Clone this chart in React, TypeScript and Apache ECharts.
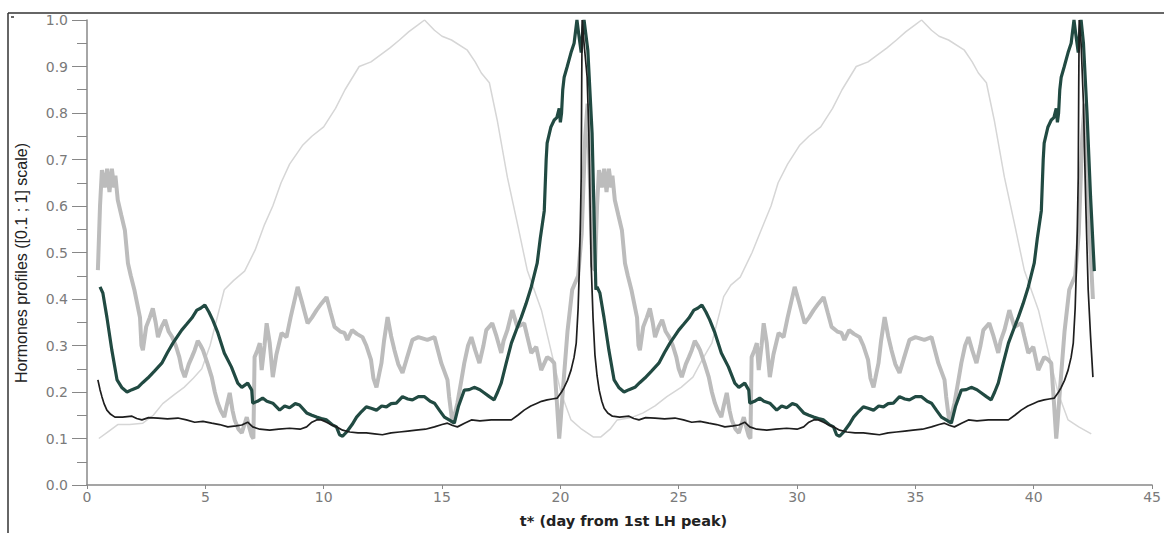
import React, { useEffect, useRef } from "react";
import * as echarts from "echarts";

// x: day (t*), y: normalised hormone level
const xAxisName = "t* (day from 1st LH peak)";
const yAxisName = "Hormones profiles ([0.1 ; 1] scale)";

// light grey thin curve – cycle 1 and cycle 2
const lightCycle1: number[][] = [
  [0.5,0.10],[0.9,0.115],[1.3,0.13],[1.8,0.13],[2.36,0.133],[2.8,0.15],[3.2,0.175],[3.7,0.195],[4.1,0.21],[4.5,0.23],[4.85,0.25],[5.2,0.30],[5.5,0.36],[5.8,0.42],[6.2,0.44],[6.66,0.46],[7.1,0.505],[7.5,0.56],[7.85,0.60],[8.2,0.65],[8.56,0.69],[9.1,0.73],[9.5,0.75],[10.0,0.77],[10.5,0.81],[10.9,0.85],[11.5,0.90],[12.0,0.91],[12.4,0.925],[12.8,0.94],[13.2,0.957],[13.6,0.975],[14.0,0.99],[14.26,1.0],[14.68,0.978],[15.0,0.965],[15.4,0.957],[16.07,0.935],[16.4,0.91],[16.66,0.886],[17.0,0.865],[17.33,0.785],[17.76,0.662],[18.18,0.563],[18.6,0.462],[19.2,0.376],[19.6,0.29],[20.03,0.198],[20.45,0.14],[20.9,0.12],[21.4,0.103]
];
const lightCycle2: number[][] = [
  [21.7,0.103],[22.1,0.12],[22.4,0.14],[23.0,0.145],[23.5,0.155],[24.0,0.17],[24.5,0.19],[25.1,0.21],[25.6,0.232],[26.0,0.27],[26.4,0.305],[26.9,0.405],[27.2,0.43],[27.6,0.447],[28.1,0.50],[28.6,0.563],[28.9,0.60],[29.2,0.65],[29.6,0.69],[30.1,0.73],[30.5,0.75],[31.0,0.77],[31.5,0.81],[31.9,0.85],[32.5,0.90],[33.0,0.91],[33.4,0.925],[33.8,0.94],[34.2,0.957],[34.6,0.975],[35.0,0.99],[35.26,1.0],[35.68,0.978],[36.0,0.965],[36.4,0.957],[37.07,0.935],[37.4,0.91],[37.66,0.886],[38.0,0.865],[38.33,0.785],[38.76,0.662],[39.18,0.563],[39.6,0.462],[40.2,0.376],[40.6,0.29],[41.03,0.198],[41.45,0.14],[41.9,0.125],[42.43,0.11]
];

// medium grey thick noisy curve
const greyCycle1: number[][] = [
  [0.46,0.462],[0.55,0.60],[0.63,0.677],[0.75,0.64],[0.85,0.68],[0.95,0.63],[1.05,0.68],[1.15,0.64],[1.2,0.665],[1.3,0.613],[1.45,0.58],[1.6,0.548],[1.73,0.477],[1.85,0.45],[2.0,0.42],[2.12,0.39],[2.24,0.36],[2.3,0.30],[2.36,0.29],[2.5,0.34],[2.65,0.36],[2.78,0.38],[2.9,0.35],[3.0,0.318],[3.15,0.34],[3.3,0.355],[3.45,0.33],[3.6,0.318],[3.75,0.30],[3.9,0.275],[4.0,0.25],[4.13,0.232],[4.3,0.26],[4.43,0.275],[4.55,0.29],[4.68,0.31],[4.8,0.30],[4.9,0.29],[5.1,0.26],[5.27,0.232],[5.4,0.20],[5.53,0.176],[5.65,0.16],[5.8,0.146],[5.9,0.17],[6.03,0.198],[6.15,0.16],[6.24,0.14],[6.4,0.12],[6.54,0.112],[6.65,0.13],[6.75,0.146],[6.85,0.125],[6.96,0.105],[7.03,0.10],[7.08,0.275],[7.2,0.29],[7.3,0.305],[7.38,0.247],[7.5,0.30],[7.59,0.348],[7.72,0.305],[7.85,0.232],[8.0,0.28],[8.22,0.327],[8.43,0.318],[8.6,0.36],[8.9,0.426],[9.1,0.39],[9.32,0.348],[9.5,0.36],[9.7,0.376],[9.9,0.39],[10.12,0.404],[10.3,0.37],[10.46,0.34],[10.7,0.33],[10.88,0.327],[11.0,0.312],[11.2,0.333],[11.4,0.325],[11.64,0.318],[11.8,0.30],[12.0,0.269],[12.1,0.23],[12.23,0.21],[12.35,0.24],[12.44,0.262],[12.55,0.31],[12.7,0.361],[12.85,0.32],[12.99,0.29],[13.15,0.26],[13.33,0.241],[13.5,0.27],[13.75,0.312],[14.0,0.318],[14.38,0.312],[14.68,0.318],[14.97,0.262],[15.23,0.226],[15.3,0.19],[15.44,0.133],[15.65,0.176],[15.8,0.22],[15.94,0.262],[16.1,0.30],[16.24,0.318],[16.4,0.29],[16.58,0.262],[16.75,0.30],[16.87,0.333],[17.12,0.348],[17.3,0.32],[17.5,0.284],[17.6,0.31],[17.76,0.333],[17.97,0.376],[18.18,0.34],[18.47,0.348],[18.6,0.32],[18.77,0.284],[18.98,0.297],[19.19,0.247],[19.44,0.275],[19.6,0.27],[19.74,0.262],[19.85,0.18],[19.95,0.10],[20.0,0.13],[20.1,0.2],[20.3,0.33],[20.5,0.42],[20.75,0.45],[20.9,0.54],[21.05,0.75],[21.15,0.82],[21.25,0.65],[21.35,0.47]
];
const greyCycle2: number[][] = [
  [21.46,0.462],[21.55,0.60],[21.63,0.677],[21.75,0.64],[21.85,0.68],[21.95,0.63],[22.05,0.68],[22.15,0.64],[22.2,0.665],[22.3,0.613],[22.45,0.58],[22.6,0.548],[22.73,0.477],[22.85,0.45],[23.0,0.42],[23.12,0.39],[23.24,0.36],[23.3,0.30],[23.36,0.29],[23.5,0.34],[23.65,0.36],[23.78,0.38],[23.9,0.35],[24.0,0.318],[24.15,0.34],[24.3,0.355],[24.45,0.33],[24.6,0.318],[24.75,0.30],[24.9,0.275],[25.0,0.25],[25.13,0.232],[25.3,0.26],[25.43,0.275],[25.55,0.29],[25.68,0.31],[25.8,0.30],[25.9,0.29],[26.1,0.26],[26.27,0.232],[26.4,0.20],[26.53,0.176],[26.65,0.16],[26.8,0.146],[26.9,0.17],[27.03,0.198],[27.15,0.16],[27.24,0.14],[27.4,0.12],[27.54,0.112],[27.65,0.13],[27.75,0.146],[27.85,0.125],[27.96,0.105],[28.03,0.10],[28.08,0.275],[28.2,0.29],[28.3,0.305],[28.38,0.247],[28.5,0.30],[28.59,0.348],[28.72,0.305],[28.85,0.232],[29.0,0.28],[29.22,0.327],[29.43,0.318],[29.6,0.36],[29.9,0.426],[30.1,0.39],[30.32,0.348],[30.5,0.36],[30.7,0.376],[30.9,0.39],[31.12,0.404],[31.3,0.37],[31.46,0.34],[31.7,0.33],[31.88,0.327],[32.0,0.312],[32.2,0.333],[32.4,0.325],[32.64,0.318],[32.8,0.30],[33.0,0.269],[33.1,0.23],[33.23,0.21],[33.35,0.24],[33.44,0.262],[33.55,0.31],[33.7,0.361],[33.85,0.32],[33.99,0.29],[34.15,0.26],[34.33,0.241],[34.5,0.27],[34.75,0.312],[35.0,0.318],[35.38,0.312],[35.68,0.318],[35.97,0.262],[36.23,0.226],[36.3,0.19],[36.44,0.133],[36.65,0.176],[36.8,0.22],[36.94,0.262],[37.1,0.30],[37.24,0.318],[37.4,0.29],[37.58,0.262],[37.75,0.30],[37.87,0.333],[38.12,0.348],[38.3,0.32],[38.5,0.284],[38.6,0.31],[38.76,0.333],[38.97,0.376],[39.18,0.34],[39.47,0.348],[39.6,0.32],[39.77,0.284],[39.98,0.297],[40.19,0.247],[40.44,0.275],[40.6,0.27],[40.74,0.262],[40.85,0.18],[40.95,0.10],[41.0,0.13],[41.1,0.2],[41.3,0.33],[41.5,0.42],[41.75,0.45],[41.9,0.54],[42.05,0.75],[42.15,0.82],[42.25,0.65],[42.4,0.5],[42.5,0.40]
];

// dark green thick curve
const greenCycle1: number[][] = [
  [0.55,0.426],[0.67,0.413],[0.84,0.361],[1.05,0.29],[1.27,0.226],[1.48,0.209],[1.69,0.20],[1.9,0.205],[2.15,0.21],[2.35,0.22],[2.57,0.23],[2.85,0.245],[3.16,0.262],[3.4,0.285],[3.63,0.305],[4.0,0.333],[4.2,0.345],[4.43,0.359],[4.64,0.376],[4.8,0.38],[4.98,0.387],[5.15,0.372],[5.31,0.355],[5.53,0.327],[5.8,0.284],[6.1,0.254],[6.37,0.219],[6.54,0.21],[6.79,0.219],[6.96,0.204],[7.0,0.176],[7.2,0.18],[7.42,0.187],[7.6,0.18],[7.85,0.176],[8.14,0.161],[8.35,0.17],[8.56,0.166],[8.8,0.175],[8.98,0.172],[9.28,0.155],[9.5,0.15],[9.7,0.146],[9.9,0.143],[10.12,0.14],[10.35,0.13],[10.54,0.125],[10.67,0.108],[10.8,0.105],[10.97,0.114],[11.2,0.13],[11.39,0.146],[11.6,0.158],[11.8,0.168],[12.0,0.165],[12.23,0.161],[12.45,0.17],[12.65,0.168],[12.85,0.175],[13.07,0.176],[13.33,0.19],[13.55,0.185],[13.75,0.183],[14.0,0.19],[14.26,0.19],[14.5,0.18],[14.68,0.176],[14.9,0.16],[15.1,0.146],[15.3,0.14],[15.52,0.133],[15.7,0.17],[15.94,0.204],[16.15,0.205],[16.36,0.21],[16.6,0.205],[16.79,0.198],[17.0,0.19],[17.2,0.183],[17.35,0.20],[17.5,0.219],[17.7,0.26],[17.93,0.305],[18.15,0.335],[18.35,0.361],[18.55,0.39],[18.77,0.426],[19.02,0.477],[19.15,0.53],[19.32,0.59],[19.4,0.70],[19.44,0.735],[19.6,0.77],[19.74,0.785],[19.85,0.79],[19.95,0.81],[20.0,0.78],[20.05,0.80],[20.1,0.85],[20.16,0.877],[20.29,0.90],[20.45,0.93],[20.58,0.95],[20.7,1.0],[20.8,0.96],[20.88,0.93],[20.95,0.98],[21.0,1.0],[21.16,0.935],[21.34,0.757],[21.5,0.42]
];
const greenCycle2: number[][] = [
  [21.55,0.426],[21.67,0.413],[21.84,0.361],[22.05,0.29],[22.27,0.226],[22.48,0.209],[22.69,0.20],[22.9,0.205],[23.15,0.21],[23.35,0.22],[23.57,0.23],[23.85,0.245],[24.16,0.262],[24.4,0.285],[24.63,0.305],[25.0,0.333],[25.2,0.345],[25.43,0.359],[25.64,0.376],[25.8,0.38],[25.98,0.387],[26.15,0.372],[26.31,0.355],[26.53,0.327],[26.8,0.284],[27.1,0.254],[27.37,0.219],[27.54,0.21],[27.79,0.219],[27.96,0.204],[28.0,0.176],[28.2,0.18],[28.42,0.187],[28.6,0.18],[28.85,0.176],[29.14,0.161],[29.35,0.17],[29.56,0.166],[29.8,0.175],[29.98,0.172],[30.28,0.155],[30.5,0.15],[30.7,0.146],[30.9,0.143],[31.12,0.14],[31.35,0.13],[31.54,0.125],[31.67,0.108],[31.8,0.105],[31.97,0.114],[32.2,0.13],[32.39,0.146],[32.6,0.158],[32.8,0.168],[33.0,0.165],[33.23,0.161],[33.45,0.17],[33.65,0.168],[33.85,0.175],[34.07,0.176],[34.33,0.19],[34.55,0.185],[34.75,0.183],[35.0,0.19],[35.26,0.19],[35.5,0.18],[35.68,0.176],[35.9,0.16],[36.1,0.146],[36.3,0.14],[36.52,0.133],[36.7,0.17],[36.94,0.204],[37.15,0.205],[37.36,0.21],[37.6,0.205],[37.79,0.198],[38.0,0.19],[38.2,0.183],[38.35,0.20],[38.5,0.219],[38.7,0.26],[38.93,0.305],[39.15,0.335],[39.35,0.361],[39.55,0.39],[39.77,0.426],[40.02,0.477],[40.15,0.53],[40.32,0.59],[40.4,0.70],[40.44,0.735],[40.6,0.77],[40.74,0.785],[40.85,0.79],[40.95,0.81],[41.0,0.78],[41.05,0.80],[41.1,0.85],[41.16,0.877],[41.29,0.90],[41.45,0.93],[41.58,0.95],[41.7,1.0],[41.8,0.96],[41.88,0.93],[41.95,0.98],[42.0,1.0],[42.1,0.95],[42.25,0.8],[42.4,0.62],[42.56,0.46]
];

// black thin curve with sharp peaks
const blackCycle1: number[][] = [
  [0.46,0.226],[0.55,0.205],[0.63,0.19],[0.72,0.175],[0.84,0.161],[1.0,0.152],[1.18,0.146],[1.5,0.146],[1.9,0.148],[2.1,0.143],[2.32,0.14],[2.6,0.145],[3.0,0.144],[3.4,0.142],[3.84,0.144],[4.2,0.14],[4.55,0.135],[4.9,0.137],[5.27,0.133],[5.6,0.13],[5.95,0.125],[6.3,0.127],[6.54,0.129],[6.79,0.135],[6.9,0.13],[7.0,0.125],[7.3,0.12],[7.72,0.118],[8.1,0.12],[8.56,0.122],[9.0,0.12],[9.28,0.125],[9.5,0.135],[9.7,0.14],[9.9,0.14],[10.12,0.135],[10.3,0.13],[10.54,0.125],[10.8,0.118],[11.1,0.114],[11.45,0.112],[11.8,0.112],[12.15,0.11],[12.48,0.108],[12.85,0.112],[13.2,0.114],[13.55,0.116],[13.9,0.118],[14.3,0.12],[14.68,0.125],[15.0,0.13],[15.23,0.133],[15.45,0.128],[15.65,0.125],[15.95,0.133],[16.24,0.14],[16.6,0.138],[17.08,0.14],[17.5,0.14],[17.93,0.14],[18.2,0.15],[18.47,0.161],[18.75,0.17],[19.02,0.176],[19.2,0.18],[19.44,0.183],[19.65,0.185],[19.87,0.187],[20.05,0.2],[20.16,0.21],[20.3,0.225],[20.45,0.247],[20.58,0.275],[20.67,0.305],[20.75,0.38],[20.79,0.447],[20.84,0.55],[20.88,0.662],[20.9,0.85],[20.92,1.0],[21.0,0.95],[21.13,0.877],[21.2,0.763],[21.3,0.477],[21.38,0.36]
];
const blackCycle2: number[][] = [
  [21.46,0.28],[21.55,0.235],[21.64,0.204],[21.75,0.18],[21.85,0.165],[22.0,0.155],[22.2,0.148],[22.5,0.146],[22.9,0.148],[23.1,0.143],[23.32,0.14],[23.6,0.145],[24.0,0.144],[24.4,0.142],[24.84,0.144],[25.2,0.14],[25.55,0.135],[25.9,0.137],[26.27,0.133],[26.6,0.13],[26.95,0.125],[27.3,0.127],[27.54,0.129],[27.79,0.135],[27.9,0.13],[28.0,0.125],[28.3,0.12],[28.72,0.118],[29.1,0.12],[29.56,0.122],[30.0,0.12],[30.28,0.125],[30.5,0.135],[30.7,0.14],[30.9,0.14],[31.12,0.135],[31.3,0.13],[31.54,0.125],[31.8,0.118],[32.1,0.114],[32.45,0.112],[32.8,0.112],[33.15,0.11],[33.48,0.108],[33.85,0.112],[34.2,0.114],[34.55,0.116],[34.9,0.118],[35.3,0.12],[35.68,0.125],[36.0,0.13],[36.23,0.133],[36.45,0.128],[36.65,0.125],[36.95,0.133],[37.24,0.14],[37.6,0.138],[38.08,0.14],[38.5,0.14],[38.93,0.14],[39.2,0.15],[39.47,0.161],[39.75,0.17],[40.02,0.176],[40.2,0.18],[40.44,0.183],[40.65,0.185],[40.87,0.187],[41.05,0.2],[41.16,0.21],[41.3,0.225],[41.45,0.247],[41.58,0.275],[41.67,0.305],[41.75,0.38],[41.79,0.447],[41.84,0.55],[41.88,0.662],[41.9,0.85],[41.92,1.0],[42.0,0.95],[42.1,0.82],[42.2,0.6],[42.3,0.42],[42.4,0.32],[42.5,0.232]
];

export default function App() {
  const ref = useRef<HTMLDivElement>(null);
  useEffect(() => {
    document.body.style.margin = "0";
    if (!ref.current) return;
    const chart = echarts.init(ref.current, undefined, { renderer: "svg" });
    const tickFont = { fontFamily: "DejaVu Sans", fontSize: 14, color: "#7a7a7a" };
    chart.setOption({
      animation: false,
      backgroundColor: "#ffffff",
      grid: { left: 87, right: 10, top: 20, bottom: 48 },
      xAxis: {
        type: "value",
        min: 0,
        max: 45,
        interval: 5,
        name: xAxisName,
        nameLocation: "middle",
        nameGap: 28,
        nameTextStyle: { fontFamily: "DejaVu Sans", fontSize: 14.5, fontWeight: "bold", color: "#222", padding: [0, 0, 0, 8] },
        axisLine: { show: true, lineStyle: { color: "#888", width: 1.5 } },
        axisTick: { show: true, length: 4, lineStyle: { color: "#888" } },
        axisLabel: { ...tickFont, margin: 5 },
        splitLine: { show: false },
      },
      yAxis: {
        type: "value",
        min: 0,
        max: 1,
        interval: 0.1,
        axisLine: { show: true, lineStyle: { color: "#888", width: 1.5 } },
        axisTick: { show: true, length: 15, lineStyle: { color: "#888" } },
        minorTick: { show: true, splitNumber: 2, length: 10, lineStyle: { color: "#888" } },
        axisLabel: { ...tickFont, margin: 19, formatter: (v: number) => v.toFixed(1) },
        splitLine: { show: false },
      },
      graphic: [
        { type: "line", shape: { x1: 8, y1: 13, x2: 1164, y2: 13 }, style: { stroke: "#333", lineWidth: 1.5 } },
        { type: "line", shape: { x1: 8, y1: 13, x2: 8, y2: 533 }, style: { stroke: "#333", lineWidth: 1.5 } },
        { type: "line", shape: { x1: 11, y1: 17, x2: 14, y2: 17 }, style: { stroke: "#333", lineWidth: 1.5 } },
        {
          type: "text",
          x: 21,
          y: 263,
          rotation: Math.PI / 2,
          style: {
            text: yAxisName,
            fontFamily: "Liberation Sans",
            fontSize: 16,
            fill: "#222",
            align: "center",
            verticalAlign: "middle",
          },
        },
      ],
      series: [
        {
          type: "line",
          data: [...lightCycle1, ...lightCycle2],
          showSymbol: false,
          lineStyle: { color: "#d6d6d6", width: 1.5 },
          z: 1,
        },
        {
          type: "line",
          data: [...greyCycle1, ...greyCycle2],
          showSymbol: false,
          lineStyle: { color: "#bcbcbc", width: 4 },
          z: 2,
        },
        {
          type: "line",
          data: [...greenCycle1, ...greenCycle2],
          showSymbol: false,
          lineStyle: { color: "#214a42", width: 3.2 },
          z: 3,
        },
        {
          type: "line",
          data: [...blackCycle1, ...blackCycle2],
          showSymbol: false,
          lineStyle: { color: "#1e1e1e", width: 1.7 },
          z: 4,
        },
      ],
    });
    return () => chart.dispose();
  }, []);
  return <div ref={ref} style={{ width: 1164, height: 533 }} />;
}
